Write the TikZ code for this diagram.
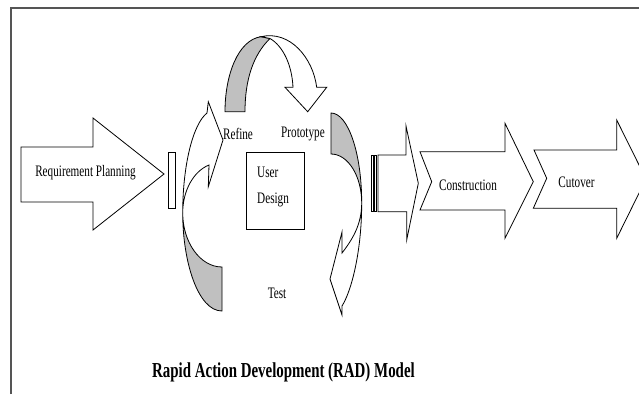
\documentclass[tikz,border=0pt]{standalone}
\usepackage{fontspec}
\setmainfont{Liberation Serif}[FakeStretch=0.7]
\definecolor{bandgrey}{RGB}{192,192,192}
\definecolor{framegrey}{RGB}{85,85,85}
\begin{document}
\begin{tikzpicture}[x=1pt, y=-1pt, line join=miter,
  shapeline/.style={draw=black, line width=0.8pt, fill=white},
  band/.style={draw=black, line width=0.8pt, fill=bandgrey},
  lbl/.style={font=\fontsize{16}{19}\selectfont, inner sep=0pt, anchor=base},
  ttl/.style={font=\fontsize{21.3}{25}\selectfont\bfseries, inner sep=0pt, anchor=base}]
\useasboundingbox (0,0) rectangle (639,394);

% page frame (top and left edges)
\draw[framegrey, line width=2pt] (10.5,394) -- (10.5,7.5) -- (639,7.5);

% Requirement Planning block arrow
\draw[shapeline] (21,147) -- (93,147) -- (93,118) -- (164,174) -- (93,230)
  -- (93,202) -- (21,202) -- cycle;
\node[lbl] (req) at (85.5,176) {Requirement Planning};

% gate bar
\draw[shapeline] (168,152) rectangle (175,208);

% left curved arrow: back band, then front band with head
\draw[band] (182.7,213) .. controls (182.7,262) and (198,311) .. (222,311)
  -- (222,267) .. controls (200,267) and (182.7,242) .. (182.7,213) -- cycle;
\draw[shapeline] (182.7,213) .. controls (182.7,165) and (193,124) .. (207,113)
  -- (208.3,101.7) -- (223,140) -- (208.3,186.7) -- (209,165)
  .. controls (194,171) and (182.7,190) .. (182.7,213) -- cycle;

% top curved arrow
\draw[band] (225,111.7) .. controls (225,75) and (238,40) .. (261,36.7)
  -- (270,38.5) .. controls (253,55) and (245,80) .. (245,111.7) -- cycle;
\draw[shapeline] (261,36.7) .. controls (290,30) and (313,58) .. (316.7,87.3)
  -- (326.7,87.3) -- (307.7,111.7) -- (285,87.3) -- (293,87.3)
  .. controls (292,65) and (283,46) .. (270,38.5) -- cycle;

% right curved arrow
\draw[band] (331,113) .. controls (348,113) and (361.7,153) .. (361.7,203)
  .. controls (361.7,176) and (348,154) .. (331,154) -- cycle;
\draw[shapeline] (361.7,203) .. controls (361.7,250) and (352,290) .. (342,306)
  -- (342,315) -- (330,279) -- (342,232) -- (342,253)
  .. controls (352,240) and (361.7,225) .. (361.7,203) -- cycle;

% cycle labels and the User Design box
\node[lbl] (refine) at (238,139) {Refine};
\node[lbl] (proto) at (303,137) {Prototype};
\node[draw=black, line width=0.8pt, minimum width=58pt, minimum height=77pt,
  inner sep=0pt] (ud) at (275,190.5) {};
\node[lbl, anchor=base west] (user) at (257,177) {User};
\node[lbl, anchor=base west] (design) at (257,203) {Design};
\node[lbl] (test) at (277,298) {Test};

% striped arrow
\draw[shapeline] (371,155) rectangle (373,211.7);
\draw[shapeline] (374.3,155) rectangle (376.3,211.7);
\draw[shapeline] (378,155) -- (406,155) -- (406,126) -- (418.3,183.3)
  -- (406.7,240) -- (406.7,211.7) -- (378,211.7) -- cycle;

% Construction chevron arrow
\draw[shapeline] (420,151.7) -- (505,151.7) -- (505,123.3) -- (533.3,181.7)
  -- (505,238.3) -- (505,210) -- (420,210) -- (431.7,181.7) -- cycle;
\node[lbl] (cons) at (468,190) {Construction};

% Cutover chevron arrow, running off the right edge
\begin{scope}
  \clip (0,0) rectangle (639,394);
  \draw[shapeline] (534,150) -- (616.7,150) -- (616.7,120) -- (646,179)
    -- (616.7,238.3) -- (616.7,208.3) -- (533.3,208.3) -- (546.7,178.3) -- cycle;
\end{scope}
\node[lbl] (cut) at (576.5,187) {Cutover};

% caption
\node[ttl] (title) at (283.5,377) {Rapid Action Development (RAD) Model};
\end{tikzpicture}
\end{document}
